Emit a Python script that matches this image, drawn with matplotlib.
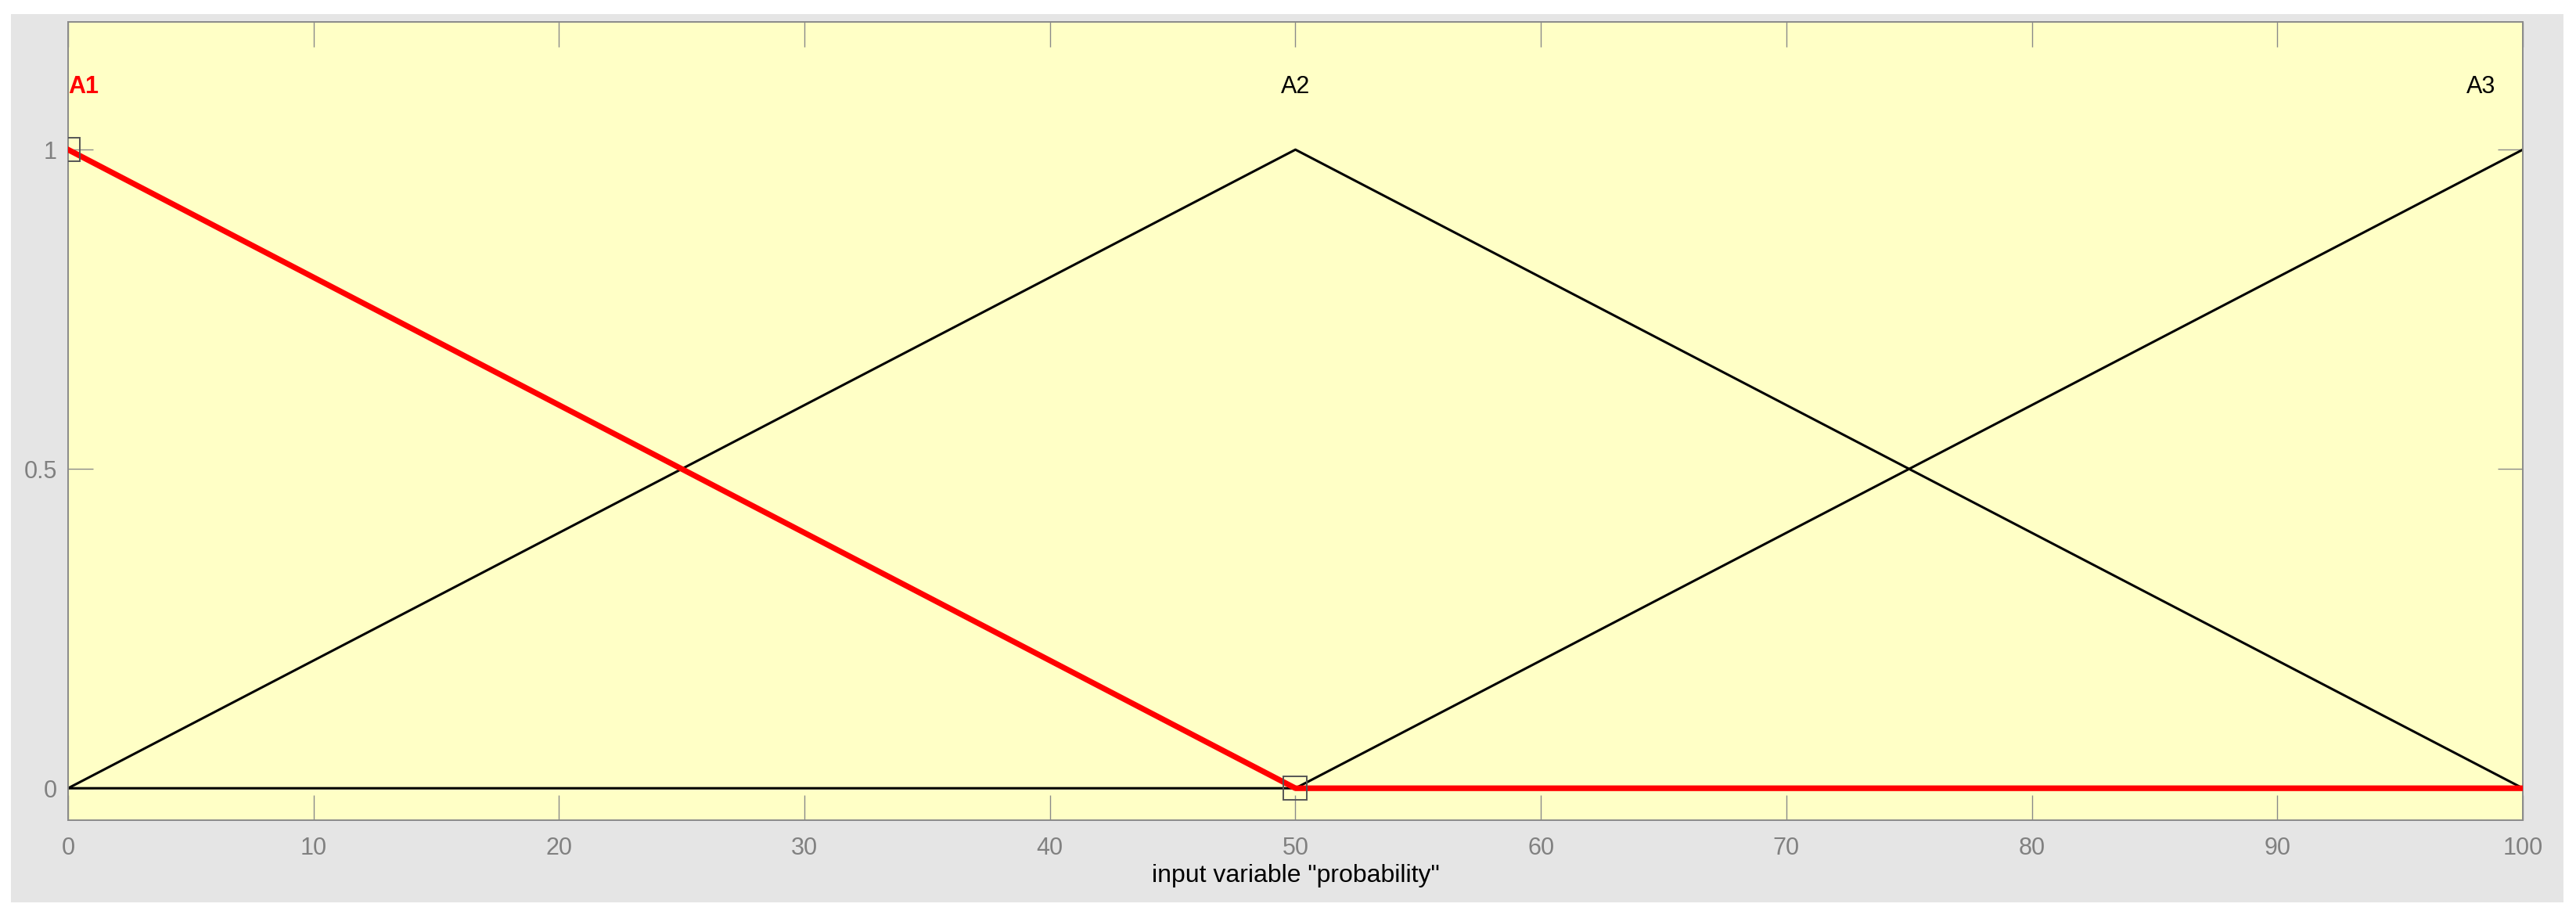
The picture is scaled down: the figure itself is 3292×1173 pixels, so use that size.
import matplotlib.pyplot as plt
from matplotlib.patches import Rectangle

plt.rcParams['font.family'] = ['Liberation Sans', 'DejaVu Sans']

# membership functions of the input variable "probability"
x_pts = [0, 50, 100]
mf_names = ['A1', 'A2', 'A3']
mf_values = {
    'A1': [1, 0, 0],
    'A2': [0, 1, 0],
    'A3': [0, 0, 1],
}
selected = 'A1'
x_ticks = [0, 10, 20, 30, 40, 50, 60, 70, 80, 90, 100]
y_ticks = [0, 0.5, 1]
y_tick_labels = ['0', '0.5', '1']

fig = plt.figure(figsize=(16.46, 5.865), dpi=200)
fig.patch.set_facecolor('white')
# gray panel behind the axes (the GUI background)
fig.patches.append(Rectangle((0.00425, 0.01705), 0.99089, 0.9676,
                             transform=fig.transFigure, facecolor='#e5e5e5',
                             edgecolor='none', zorder=-10))

ax = fig.add_axes([0.02643, 0.10656, 0.95291, 0.86957])
ax.set_facecolor('#ffffc6')

# black curves first, the selected one in red on top
for name in mf_names:
    if name != selected:
        ax.plot(x_pts, mf_values[name], color='black', lw=1.1, zorder=2)
ax.plot(x_pts, mf_values[selected], color='red', lw=2.6, zorder=3)
# selection handles
ax.plot(x_pts[:2], mf_values[selected][:2], ls='none', marker='s', ms=11,
        mfc='none', mec='#555555', mew=0.7, zorder=4)

# labels above the peaks
label_ha = ['left', 'center', 'right']
label_dx = [0, 0, -12.5]
for name, ha, dx in zip(mf_names, label_ha, label_dx):
    peak = x_pts[mf_values[name].index(1)]
    ax.annotate(name, (peak, 1.098), xytext=(dx, 0), textcoords='offset points',
                ha=ha, va='center', fontsize=11,
                color='red' if name == selected else 'black',
                fontweight='bold' if name == selected else 'normal')

ax.set_xlim(0, 100)
ax.set_ylim(-0.05, 1.2)
ax.set_xticks(x_ticks)
ax.set_yticks(y_ticks)
ax.set_yticklabels(y_tick_labels)
ax.tick_params(direction='in', length=11.5, width=0.5, color='#8a8a8a',
               labelcolor='#808080', labelsize=11, top=True, right=True)
ax.tick_params(axis='x', pad=7.5)
ax.tick_params(axis='y', pad=5)
for s in ax.spines.values():
    s.set_color('#8a8a8a')
    s.set_linewidth(0.7)

ax.set_xlabel('input variable "probability"', fontsize=11.5, labelpad=2)

fig.savefig('out.png', dpi=200)
